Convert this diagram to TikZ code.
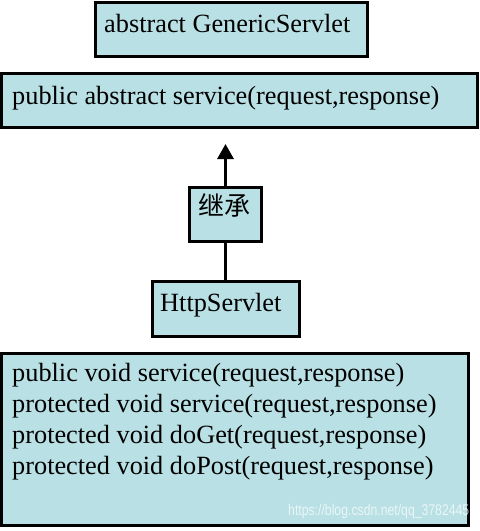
\documentclass[tikz,border=0pt]{standalone}
\usepackage{fontspec}
\setmainfont{Liberation Serif}
\newfontfamily\cjk{Noto Sans CJK SC}
\newfontfamily\wmfont{Liberation Sans}
\usetikzlibrary{arrows.meta}
\definecolor{boxfill}{RGB}{185,224,228}
\tikzset{
  classbox/.style={draw=black,line width=3pt,fill=boxfill,rectangle,inner sep=0pt},
  txt/.style={anchor=base west,inner sep=0pt,font=\fontsize{26.3}{31}\selectfont},
}

\begin{document}
\begin{tikzpicture}[x=1pt,y=-1pt]
                \useasboundingbox (0,0) rectangle (480,531);
                % the boxes
                \node[classbox,minimum width=271.5pt,minimum height=54pt] (generic) at (231.25,29) {};
                \node[classbox,minimum width=475.5pt,minimum height=54pt] (abstract) at (239.25,100.5) {};
                \node[classbox,minimum width=72.5pt,minimum height=54pt] (inherit) at (225.5,214.5) {};
                \node[classbox,minimum width=147pt,minimum height=55pt] (http) at (225.5,308.5) {};
                \node[classbox,minimum width=467pt,minimum height=171.5pt] (methods) at (235,439.25) {};

                % connectors
                \coordinate (tip) at (225.5,144);
                \draw[line width=3pt,-{Triangle[width=16pt,length=15pt]}] (inherit) -- (tip);
                \draw[line width=3pt] (http) -- (inherit);

                % texts
                \node[txt] (genericlbl) at (104,32) {abstract GenericServlet};
                \node[txt] (abstractlbl) at (12,104) {public abstract service(request,response)};
                \node[txt,font=\cjk\fontsize{26}{31}\selectfont] (inheritlbl) at (198,215) {继承};
                \node[txt] (httplbl) at (160,311) {HttpServlet};
                \foreach \t [count=\i] in {{public void service(request,response)},
                                            {protected void service(request,response)},
                                            {protected void doGet(request,response)},
                                            {protected void doPost(request,response)}}
                    \node[txt] (m\i) at (12,350+31*\i) {\t};
                \node[anchor=base west,inner sep=0pt,font=\wmfont\fontsize{15.5}{18}\selectfont,text=white,opacity=.7] (mark) at (288,515) {\scalebox{0.79}[1]{https://blog.csdn.net/qq\_37824451}};
\end{tikzpicture}
\end{document}
